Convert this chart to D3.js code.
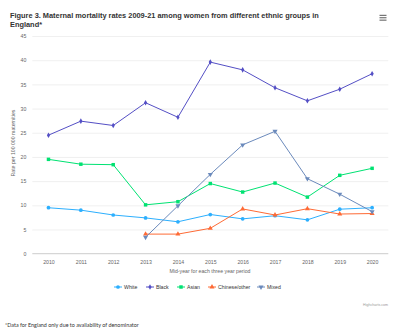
<!DOCTYPE html>
<html><head><meta charset="utf-8">
<script src="https://cdn.jsdelivr.net/npm/d3@7"></script>
<style>html,body{margin:0;padding:0;background:#fff;}svg{display:block;}</style>
</head><body>
<script>
const years = ["2010","2011","2012","2013","2014","2015","2016","2017","2018","2019","2020"];
const yTicks = [0,5,10,15,20,25,30,35,40,45];
const seriesNames = ["White","Black","Asian","Chinese/other","Mixed"];
const white = [9.5,9.0,8.0,7.4,6.6,8.1,7.2,7.85,7.0,9.2,9.5];
const black = [24.5,27.4,26.5,31.2,28.2,39.6,38.0,34.3,31.6,34.0,37.2];
const asian = [19.5,18.5,18.4,10.1,10.75,14.5,12.75,14.6,11.7,16.2,17.65];
const chineseOther = [null,null,null,4.05,4.05,5.25,9.25,8.0,9.3,8.2,8.3];
const mixed = [null,null,null,3.4,9.9,16.4,22.5,25.3,15.5,12.3,8.7];
const colors = ["#2caffe","#544fc5","#00e272","#fe6a35","#6b8abc"];
const symbols = [d3.symbolCircle,d3.symbolDiamond,d3.symbolSquare,d3.symbolTriangle,d3.symbolTriangle];

const W=399,H=333;
const svg=d3.select("body").append("svg").attr("width",W).attr("height",H);
const font="'Liberation Sans', Arial, sans-serif";
const x=d3.scalePoint().domain(years).range([32.3,388.3]).padding(0.5);
const y=d3.scaleLinear().domain([0,45]).range([253.7,36]);

// title
const t=svg.append("text").attr("x",10).attr("y",17.5).attr("font-family",font).attr("font-size",7.4).attr("font-weight","bold").attr("fill","#333");
t.append("tspan").attr("x",10).text("Figure 3. Maternal mortality rates 2009-21 among women from different ethnic groups in");
t.append("tspan").attr("x",10).attr("dy",9.4).text("England*");
// menu icon
[0,2.4,4.8].forEach(d=>svg.append("rect").attr("x",379.5).attr("y",14.8+d).attr("width",7).attr("height",1.1).attr("fill","#666"));

// grid + y axis
const ya=svg.append("g").attr("transform","translate(32.3,0)").call(d3.axisLeft(y).tickValues(yTicks).tickSize(-356).tickPadding(6));
ya.select(".domain").remove();
ya.selectAll(".tick line").attr("stroke","#e6e6e6").attr("stroke-width",0.6);
ya.selectAll(".tick text").attr("font-family",font).attr("font-size",5.2).attr("fill","#666");
ya.selectAll(".tick").filter(d=>d===0).select("line").remove();

// x axis
const xa=svg.append("g").attr("transform","translate(0,253.7)").call(d3.axisBottom(x).tickSize(0).tickPadding(7));
xa.select(".domain").attr("stroke","#d6d6d6").attr("stroke-width",1.2).attr("d","M32.3,0H388.3");
xa.selectAll(".tick text").attr("font-family",font).attr("font-size",5.2).attr("fill","#666");

svg.append("text").attr("x",210).attr("y",273).attr("text-anchor","middle").attr("font-family",font).attr("font-size",5.2).attr("fill","#666").text("Mid-year for each three year period");
svg.append("text").attr("transform","translate(14.5,143) rotate(-90)").attr("text-anchor","middle").attr("font-family",font).attr("font-size",5.2).attr("fill","#666").text("Rate per 100 000 maternities");

const all=[white,black,asian,chineseOther,mixed];
const line=d3.line().defined(d=>d!=null).x((d,i)=>x(years[i])).y(d=>y(d));
all.forEach((vals,si)=>{
  svg.append("path").datum(vals).attr("d",line).attr("fill","none").attr("stroke",colors[si]).attr("stroke-width",1);
  const sym=d3.symbol().type(symbols[si]).size(si===2?12:si===1?9:11);
  vals.forEach((v,i)=>{ if(v==null) return;
    svg.append("path").attr("d",sym()).attr("fill",colors[si])
      .attr("transform",`translate(${x(years[i])},${y(v)})`+(si===4?" rotate(180)":""));
  });
});

// legend
const lx=[118,150,181,212,261];
seriesNames.forEach((n,i)=>{
  const g=svg.append("g").attr("transform",`translate(${lx[i]},287)`);
  g.append("line").attr("x1",-4).attr("x2",4).attr("stroke",colors[i]).attr("stroke-width",1);
  const sym=d3.symbol().type(symbols[i]).size(i===2?12:i===1?9:11);
  g.append("path").attr("d",sym()).attr("fill",colors[i]).attr("transform",i===4?"rotate(180)":null);
  g.append("text").attr("x",6).attr("y",1.8).attr("font-family",font).attr("font-size",5.2).attr("fill","#333").text(n);
});

svg.append("text").attr("x",388).attr("y",306).attr("text-anchor","end").attr("font-family",font).attr("font-size",3.6).attr("fill","#999").text("Highcharts.com");
svg.append("text").attr("x",5).attr("y",326.5).attr("font-family","Lato, 'Open Sans', sans-serif").attr("font-size",5.4).attr("fill","#333").text("*Data for England only due to availability of denominator");
</script>
</body></html>
